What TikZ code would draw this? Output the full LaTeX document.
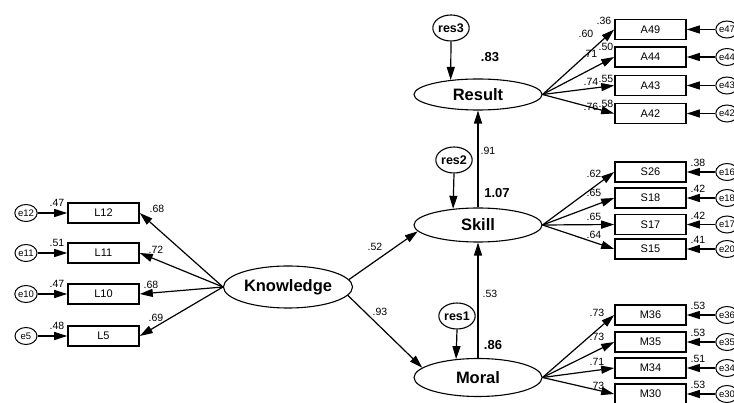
\documentclass[tikz,border=0pt]{standalone}
\usepackage{fontspec}
\setmainfont{Liberation Sans}
\usetikzlibrary{arrows.meta,shapes.geometric}
\begin{document}
\begin{tikzpicture}[x=1pt,y=-1pt,
  lat/.style={ellipse,draw,line width=1.1pt,minimum width=128pt,inner sep=0pt,font=\fontsize{16.5}{16.5}\selectfont\bfseries},
  obs/.style={rectangle,draw,line width=1.6pt,minimum width=71pt,minimum height=20pt,inner sep=0pt,font=\fontsize{11}{11}\selectfont},
  err/.style={ellipse,draw,line width=1pt,minimum width=22pt,minimum height=17pt,inner sep=0pt,font=\fontsize{9.5}{9.5}\selectfont},
  resid/.style={ellipse,draw,line width=1.1pt,minimum width=33pt,minimum height=26pt,inner sep=0pt,font=\fontsize{12.5}{12.5}\selectfont\bfseries},
  arr/.style={line width=1.2pt,-{Triangle[length=13pt,width=8pt]}},
  coef/.style={inner sep=0pt,font=\fontsize{10.5}{10.5}\selectfont},
  rsq/.style={inner sep=0pt,font=\fontsize{13}{13}\selectfont\bfseries}]
\useasboundingbox (0,0) rectangle (734,403);

% latent variables
\node[lat,minimum height=31pt] (Result) at (478,94.5) {Result};
\node[lat,minimum height=34pt] (Skill) at (478,225) {Skill};
\node[lat,minimum height=38pt] (Moral) at (478,377.5) {Moral};
\node[lat,minimum width=129pt,minimum height=42pt] (Know) at (288,287) {Knowledge};

% residuals
\node[resid] (res3) at (451,28) {res3};
\node[resid] (res2) at (454,160) {res2};
\node[resid] (res1) at (457,316) {res1};
\draw[arr] (res3.south) -- (Result.152);
\draw[arr] (res2.south) -- (Skill.147);
\draw[arr] (res1.south) -- (Moral.140);

% structural paths
\draw[arr] (Skill.north) -- (Result.south);
\draw[arr] (Moral.north) -- (Skill.south);
\draw[arr] (Know.7) -- (Skill.186);
\draw[arr] (Know.-8) -- (Moral.170);
\node[rsq] (r83) at (490,57) {.83};
\node[rsq] (r107) at (497,193) {1.07};
\node[rsq] (r86) at (493,345) {.86};
\node[coef] (c91) at (488,151) {.91};
\node[coef] (c53) at (490,294) {.53};
\node[coef] (c52) at (375,247) {.52};
\node[coef] (c93) at (380,312) {.93};

% Knowledge indicators
\foreach \n/\e/\y/\r in {L12/e12/213/.47, L11/e11/253/.51, L10/e10/294/.47, L5/e5/336/.48}{
  \node[obs] (\n) at (103.5,\y) {\n};
  \node[err] (\e) at (26,\y) {\e};
  \draw[arr] (\e.east) -- (\n.west);
  \draw[arr] (Know.west) -- (\n.east);
  \node[coef] (r\n) at (57,\y-10) {\r};
}
\node[coef] (lL12) at (157,209) {.68};
\node[coef] (lL11) at (156,250) {.72};
\node[coef] (lL10) at (151,285) {.68};
\node[coef] (lL5) at (156,318) {.69};

% Result indicators
\foreach \n/\e/\y in {A49/e47/29.5, A44/e44/57, A43/e43/85.5, A42/e42/113.5}{
  \node[obs] (\n) at (650.5,\y) {\n};
  \node[err] (\e) at (727,\y) {\e};
  \draw[arr] (\e.west) -- (\n.east);
  \draw[arr] (Result.east) -- (\n.west);
}
\node[coef] (rA49) at (604,21) {.36};
\node[coef] (lA49) at (586,34) {.60};
\node[coef] (rA44) at (606,47) {.50};
\node[coef] (lA44) at (590,54) {.71};
\node[coef] (rA43) at (606,79) {.55};
\node[coef] (lA43) at (591,82) {.74};
\node[coef] (rA42) at (606,104) {.58};
\node[coef] (lA42) at (591,107) {.76};

% Skill indicators
\foreach \n/\e/\y/\r/\l/\ly in {S26/e16/172/.38/.62/174, S18/e18/198/.42/.65/193, S17/e17/224.5/.42/.65/217, S15/e20/249/.41/.64/235}{
  \node[obs] (\n) at (650.5,\y) {\n};
  \node[err] (\e) at (727,\y) {\e};
  \draw[arr] (\e.west) -- (\n.east);
  \draw[arr] (Skill.east) -- (\n.west);
  \node[coef] (r\n) at (698,\y-9) {\r};
  \node[coef] (l\n) at (594,\ly) {\l};
}

% Moral indicators
\foreach \n/\e/\y/\r/\l/\ly in {M36/e36/315/.53/.73/313, M35/e35/342/.53/.73/337, M34/e34/368/.51/.71/362, M30/e30/394/.53/.73/386}{
  \node[obs] (\n) at (650.5,\y) {\n};
  \node[err] (\e) at (727,\y) {\e};
  \draw[arr] (\e.west) -- (\n.east);
  \draw[arr] (Moral.east) -- (\n.west);
  \node[coef] (r\n) at (698,\y-9) {\r};
  \node[coef] (l\n) at (597,\ly) {\l};
}
\end{tikzpicture}
\end{document}
